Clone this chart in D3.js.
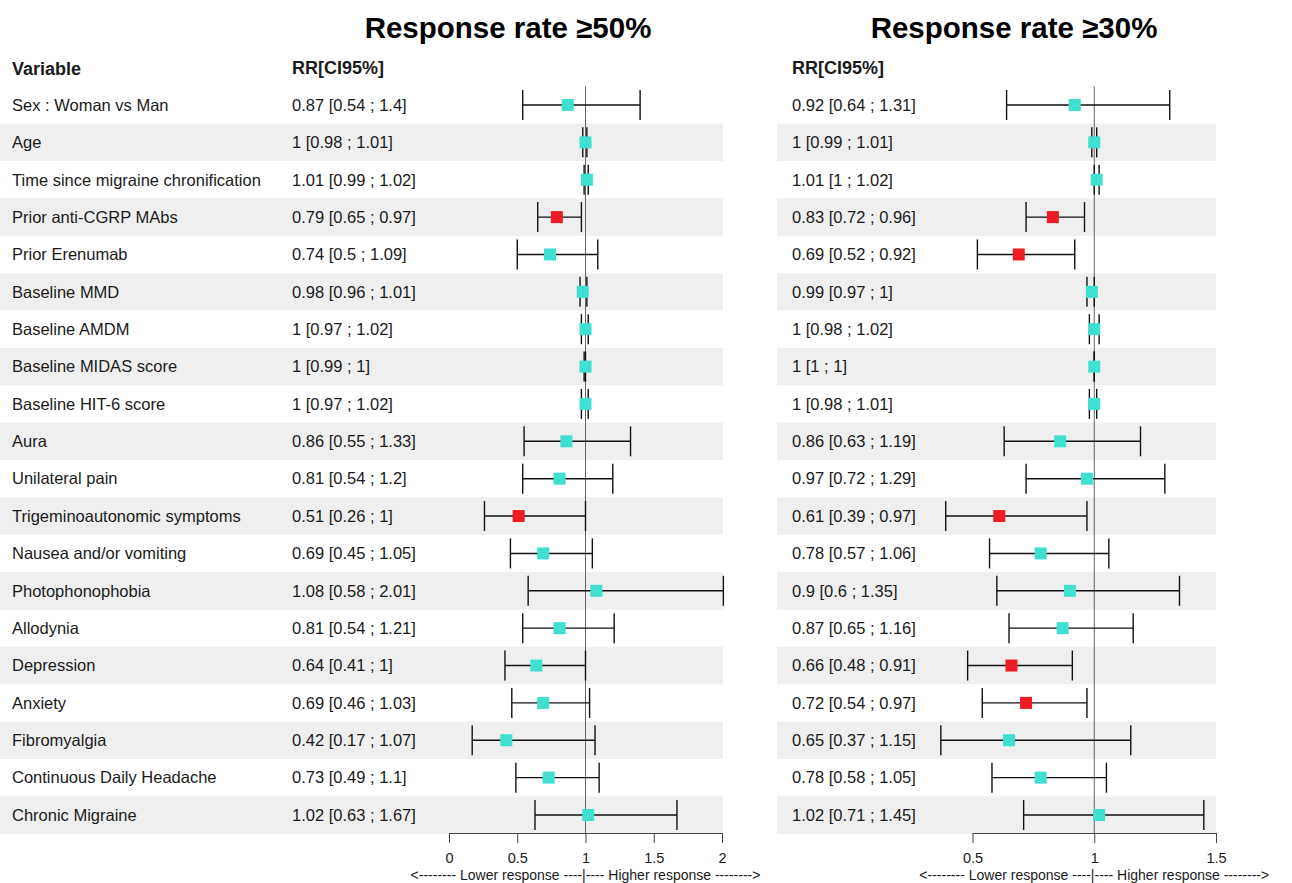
<!DOCTYPE html>
<html>
<head>
<meta charset="utf-8">
<script src="https://cdn.jsdelivr.net/npm/d3@7"></script>
<style>
  body { margin: 0; background: #fff; }
  svg { font-family: "Liberation Sans", Arial, sans-serif; }
</style>
</head>
<body>
<div id="canvas"></div>
<script>
"use strict"

// ---- data ----
let variables = ["Sex : Woman vs Man", "Age", "Time since migraine chronification",
    "Prior anti-CGRP MAbs", "Prior Erenumab", "Baseline MMD", "Baseline AMDM",
    "Baseline MIDAS score", "Baseline HIT-6 score", "Aura", "Unilateral pain",
    "Trigeminoautonomic symptoms", "Nausea and/or vomiting", "Photophonophobia",
    "Allodynia", "Depression", "Anxiety", "Fibromyalgia", "Continuous Daily Headache",
    "Chronic Migraine"];

let rr50 = [0.87, 1, 1.01, 0.79, 0.74, 0.98, 1, 1, 1, 0.86, 0.81, 0.51, 0.69, 1.08, 0.81, 0.64, 0.69, 0.42, 0.73, 1.02];
let lo50 = [0.54, 0.98, 0.99, 0.65, 0.5, 0.96, 0.97, 0.99, 0.97, 0.55, 0.54, 0.26, 0.45, 0.58, 0.54, 0.41, 0.46, 0.17, 0.49, 0.63];
let hi50 = [1.4, 1.01, 1.02, 0.97, 1.09, 1.01, 1.02, 1, 1.02, 1.33, 1.2, 1, 1.05, 2.01, 1.21, 1, 1.03, 1.07, 1.1, 1.67];
let sig50 = [0, 0, 0, 1, 0, 0, 0, 0, 0, 0, 0, 1, 0, 0, 0, 0, 0, 0, 0, 0];

let rr30 = [0.92, 1, 1.01, 0.83, 0.69, 0.99, 1, 1, 1, 0.86, 0.97, 0.61, 0.78, 0.9, 0.87, 0.66, 0.72, 0.65, 0.78, 1.02];
let lo30 = [0.64, 0.99, 1, 0.72, 0.52, 0.97, 0.98, 1, 0.98, 0.63, 0.72, 0.39, 0.57, 0.6, 0.65, 0.48, 0.54, 0.37, 0.58, 0.71];
let hi30 = [1.31, 1.01, 1.02, 0.96, 0.92, 1, 1.02, 1, 1.01, 1.19, 1.29, 0.97, 1.06, 1.35, 1.16, 0.91, 0.97, 1.15, 1.05, 1.45];
let sig30 = [0, 0, 0, 1, 1, 0, 0, 0, 0, 0, 0, 1, 0, 0, 0, 1, 1, 0, 0, 0];

let ticks50 = [0, 0.5, 1, 1.5, 2];
let ticks30 = [0.5, 1, 1.5];

// ---- canvas ----
let drawing = d3.select("#canvas")
    .append("svg")
    .attr("width", 1292)
    .attr("height", 883);

let yScale = d3.scaleBand()
    .domain(variables)
    .range([86.3, 833.7]);

let teal = "#40E0D0";
let red = "#EE1C25";
let textCol = "#1a1a1a";
let rowFont = 16.5;

function buildRows(rr, lo, hi, sig) {
    return variables.map((v, i) => ({ name: v, rr: rr[i], lo: lo[i], hi: hi[i], sig: sig[i], idx: i }));
}

/* draws one forest panel */
function drawPanel(canvas, opts) {
    let rows = buildRows(opts.rr, opts.lo, opts.hi, opts.sig);
    let x = d3.scaleLinear().domain(opts.domain).range(opts.xRange);
    let g = canvas.append("g");
    let cy = d => yScale(d.name) + yScale.bandwidth() / 2;

    // shaded bands
    g.selectAll("rect.band")
        .data(rows.filter(d => d.idx % 2 == 1))
        .enter().append("rect")
        .attr("class", "band")
        .attr("x", opts.bandX0)
        .attr("width", opts.bandX1 - opts.bandX0)
        .attr("y", d => yScale(d.name))
        .attr("height", yScale.bandwidth())
        .attr("fill", "#efefef");

    // header
    g.append("text")
        .attr("x", opts.textX)
        .attr("y", 74)
        .attr("font-size", 18)
        .attr("font-weight", "bold")
        .attr("fill", textCol)
        .text("RR[CI95%]");

    if (opts.showNames) {
        g.append("text")
            .attr("x", 12)
            .attr("y", 75)
            .attr("font-size", 18)
            .attr("font-weight", "bold")
            .attr("fill", textCol)
            .text("Variable");
        g.selectAll("text.name")
            .data(rows)
            .enter().append("text")
            .attr("class", "name")
            .attr("x", 12)
            .attr("y", cy)
            .attr("dy", "0.35em")
            .attr("font-size", rowFont)
            .attr("fill", textCol)
            .text(d => d.name);
    }

    g.selectAll("text.rr")
        .data(rows)
        .enter().append("text")
        .attr("class", "rr")
        .attr("x", opts.textX)
        .attr("y", cy)
        .attr("dy", "0.35em")
        .attr("font-size", rowFont)
        .attr("fill", textCol)
        .text(d => `${d.rr} [${d.lo} ; ${d.hi}]`);

    // title
    g.append("text")
        .attr("x", opts.titleX)
        .attr("y", 38)
        .attr("text-anchor", "middle")
        .attr("font-size", 29.5)
        .attr("font-weight", "bold")
        .attr("fill", "#000")
        .text(opts.title);

    // reference line at 1
    g.append("line")
        .attr("x1", x(1)).attr("x2", x(1))
        .attr("y1", yScale.range()[0]).attr("y2", 833)
        .attr("stroke", "#666")
        .attr("stroke-width", 1);

    // whiskers
    let ci = g.selectAll("g.ci").data(rows).enter().append("g").attr("class", "ci");
    ci.append("line")
        .attr("x1", d => x(d.lo)).attr("x2", d => x(d.hi))
        .attr("y1", cy).attr("y2", cy)
        .attr("stroke", "#111").attr("stroke-width", 1.4);
    ci.append("line")
        .attr("x1", d => x(d.lo)).attr("x2", d => x(d.lo))
        .attr("y1", d => cy(d) - 15).attr("y2", d => cy(d) + 15)
        .attr("stroke", "#111").attr("stroke-width", 1.4);
    ci.append("line")
        .attr("x1", d => x(d.hi)).attr("x2", d => x(d.hi))
        .attr("y1", d => cy(d) - 15).attr("y2", d => cy(d) + 15)
        .attr("stroke", "#111").attr("stroke-width", 1.4);

    // point estimates
    g.selectAll("rect.pt")
        .data(rows)
        .enter().append("rect")
        .attr("class", "pt")
        .attr("x", d => x(d.rr) - 6)
        .attr("y", d => cy(d) - 6)
        .attr("width", 12)
        .attr("height", 12)
        .attr("fill", d => d.sig ? red : teal);

    // axis
    let axis = d3.axisBottom(x)
        .tickValues(opts.ticks)
        .tickFormat(d => String(d))
        .tickSize(10)
        .tickSizeOuter(0);
    let ax = g.append("g")
        .attr("transform", "translate(0,833)")
        .call(axis);
    ax.select(".domain").attr("stroke", "#444");
    ax.selectAll(".tick line").attr("stroke", "#444");
    ax.selectAll(".tick text")
        .attr("font-size", 14.5)
        .attr("font-family", "Liberation Sans, Arial, sans-serif")
        .attr("fill", textCol)
        .attr("y", 20);

    g.append("text")
        .attr("x", x(1))
        .attr("y", 880)
        .attr("text-anchor", "middle")
        .attr("font-size", 14)
        .attr("fill", textCol)
        .text("<-------- Lower response ----|---- Higher response -------->");
}

drawPanel(drawing, {
    rr: rr50, lo: lo50, hi: hi50, sig: sig50,
    domain: [0, 2], xRange: [449, 722], ticks: ticks50,
    bandX0: 0, bandX1: 723, textX: 292, showNames: true,
    titleX: 508, title: "Response rate \u226550%"
});

drawPanel(drawing, {
    rr: rr30, lo: lo30, hi: hi30, sig: sig30,
    domain: [0.5, 1.5], xRange: [972.5, 1216], ticks: ticks30,
    bandX0: 777, bandX1: 1216, textX: 792, showNames: false,
    titleX: 1014, title: "Response rate \u226530%"
});
</script>
</body>
</html>
